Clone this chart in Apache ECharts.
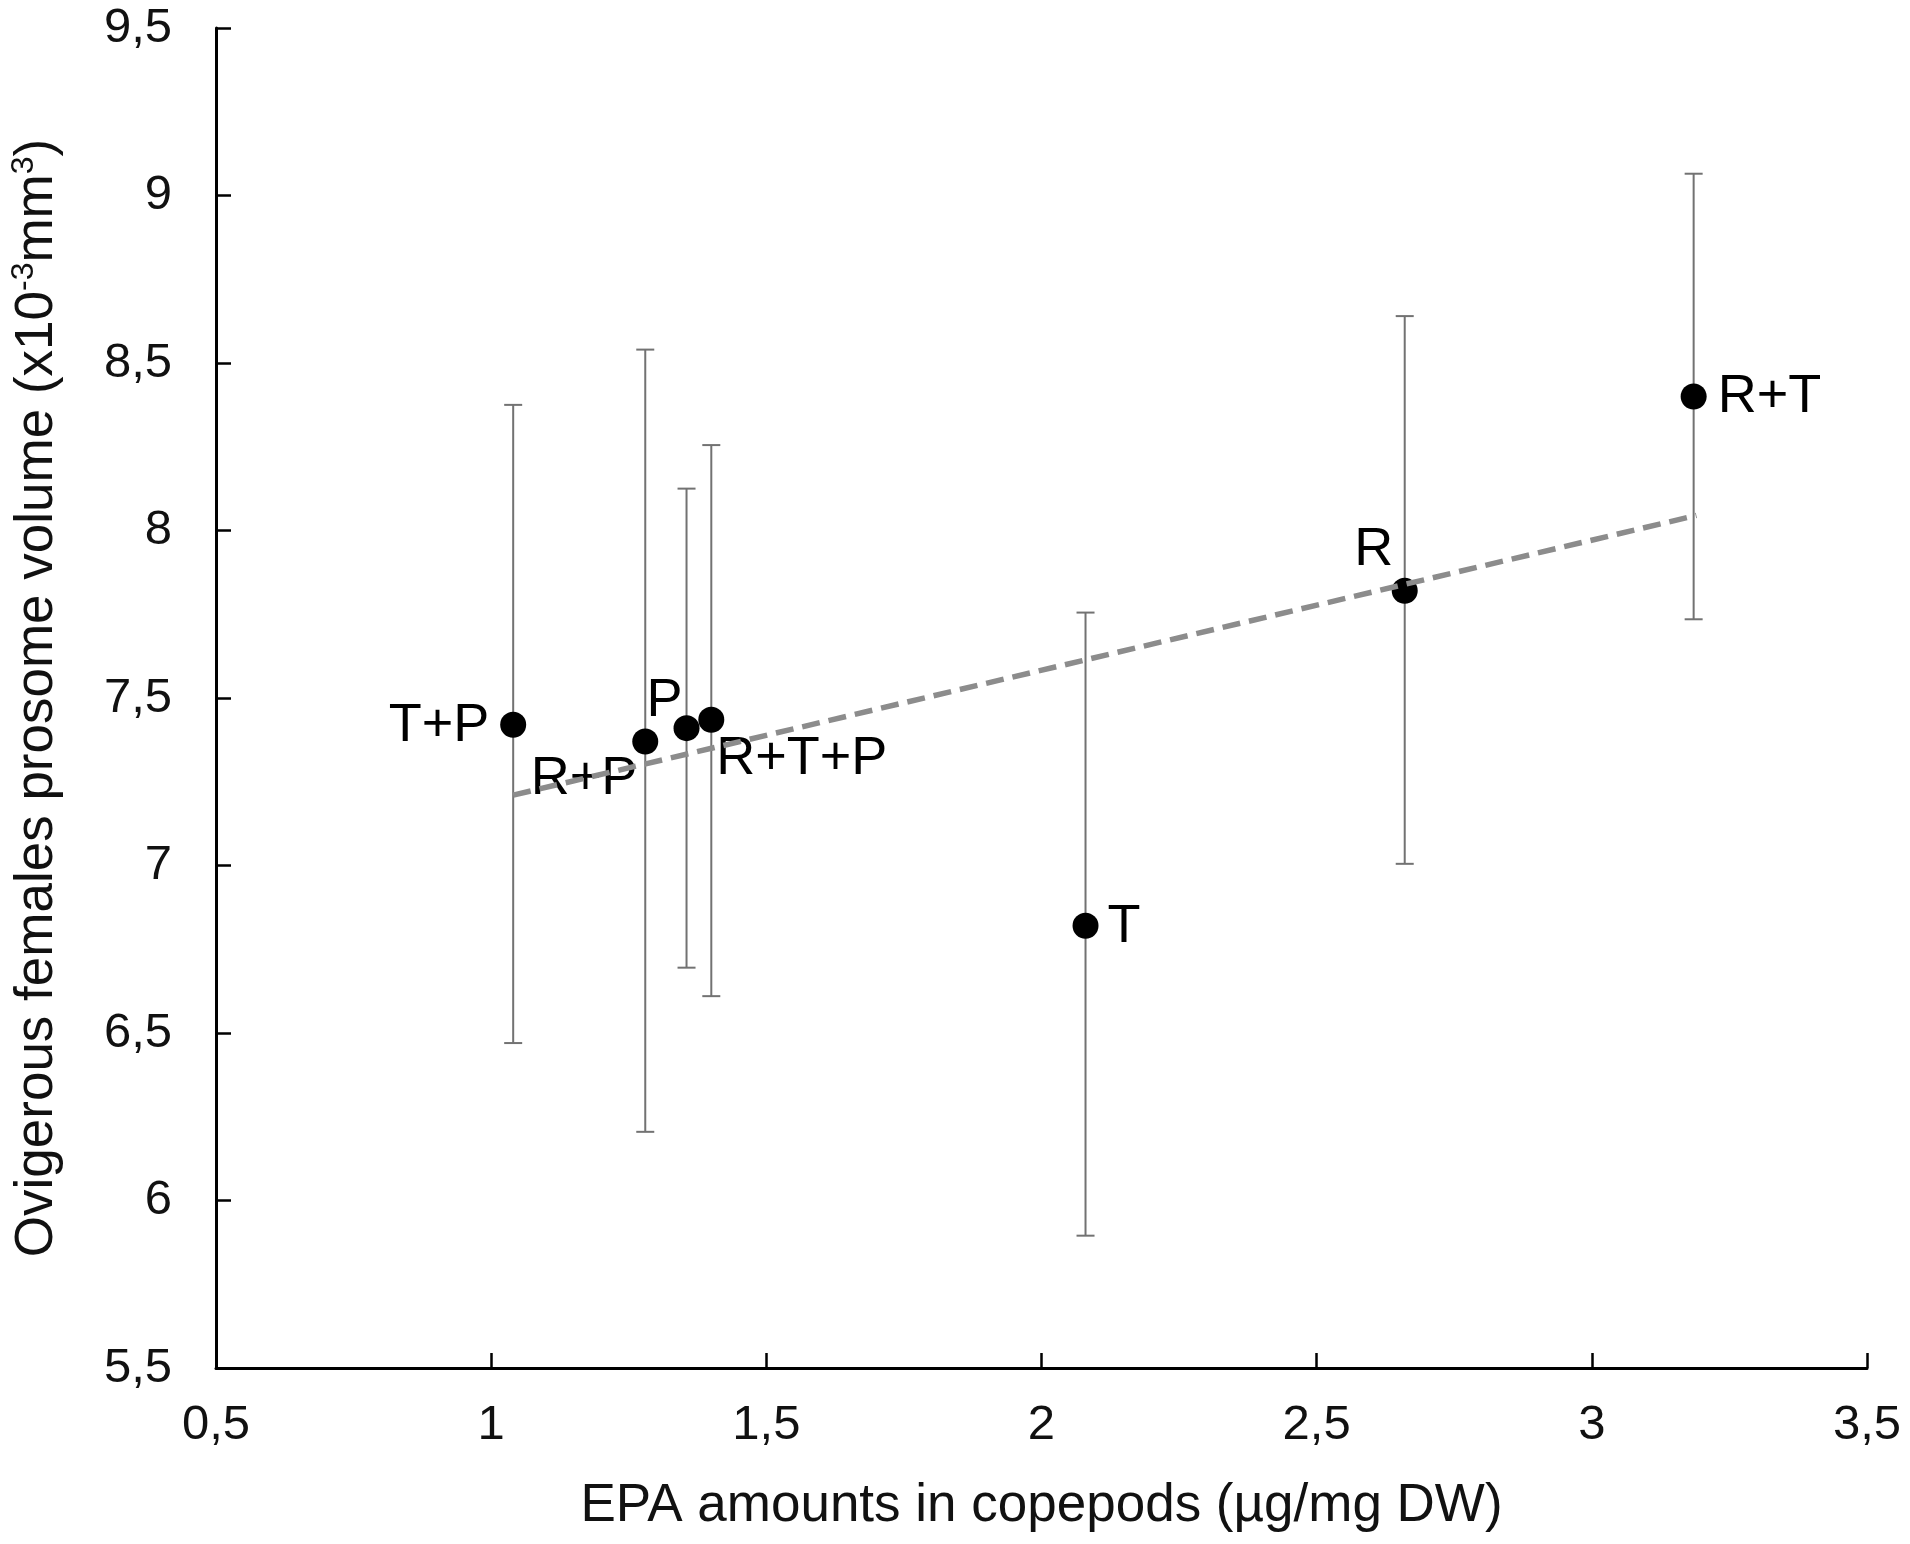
<!DOCTYPE html>
<html>
<head>
<meta charset="utf-8">
<script src="https://cdn.jsdelivr.net/npm/echarts@6/dist/echarts.min.js"></script>
<style>
  html, body { margin: 0; padding: 0; background: #ffffff; }
  #chart { width: 1910px; height: 1544px; }
</style>
</head>
<body>
<div id="chart"></div>
<script>
// ---- data ----
const groups     = ['T+P', 'R+P', 'P', 'R+T+P', 'T', 'R', 'R+T'];
const epa        = [1.04, 1.28, 1.355, 1.40, 2.08, 2.66, 3.185];
const volume     = [7.42, 7.37, 7.41, 7.435, 6.82, 7.82, 8.40];
const volumeHigh = [8.375, 8.54, 8.125, 8.255, 7.755, 8.64, 9.065];
const volumeLow  = [6.47, 6.205, 6.695, 6.61, 5.895, 7.005, 7.735];
const trendX     = [1.04, 3.19];
const trendY     = [7.21, 8.045];
const xTicks     = [0.5, 1, 1.5, 2, 2.5, 3, 3.5];
const yTicks     = [5.5, 6, 6.5, 7, 7.5, 8, 8.5, 9, 9.5];

// ---- presentation ----
const FONT = '"Liberation Sans", Arial, sans-serif';
const labelPlacement = {
  'T+P':   { align: 'right',  dx: -24, dy: 1 },
  'R+P':   { align: 'right',  dx: -8,  dy: 38 },
  'P':     { align: 'center', dx: -22, dy: -27 },
  'R+T+P': { align: 'left',   dx: 5,   dy: 39 },
  'T':     { align: 'left',   dx: 22,  dy: 1 },
  'R':     { align: 'center', dx: -31, dy: -41 },
  'R+T':   { align: 'left',   dx: 24,  dy: 1 }
};
const fmt = v => String(v).replace('.', ',');

const pointData = groups.map((g, i) => {
  const p = labelPlacement[g];
  return {
    value: [epa[i], volume[i]],
    name: g,
    label: {
      show: true,
      formatter: g,
      position: ['50%', '50%'],
      align: p.align,
      verticalAlign: 'middle',
      offset: [p.dx, p.dy]
    }
  };
});
const errData = groups.map((g, i) => [epa[i], volumeLow[i], volumeHigh[i]]);
const trendData = trendX.map((x, i) => [x, trendY[i]]);

const chart = echarts.init(document.getElementById('chart'), null, { renderer: 'canvas' });
chart.setOption({
  animation: false,
  backgroundColor: '#ffffff',
  textStyle: { fontFamily: FONT },
  grid: { left: 216, right: 43, top: 28, bottom: 176, containLabel: false },
  xAxis: {
    type: 'value',
    min: xTicks[0], max: xTicks[xTicks.length - 1], interval: 0.5,
    name: 'EPA amounts in copepods (µg/mg DW)',
    nameLocation: 'middle',
    nameGap: 112,
    nameTextStyle: { fontSize: 53, color: '#111111', fontFamily: FONT },
    axisLine: { show: true, onZero: false, lineStyle: { color: '#000', width: 3 } },
    axisTick: { show: true, inside: true, length: 15, lineStyle: { color: '#000', width: 2.5 } },
    axisLabel: { fontSize: 49, color: '#111111', margin: 33, fontFamily: FONT, formatter: fmt },
    splitLine: { show: false }
  },
  yAxis: {
    type: 'value',
    min: yTicks[0], max: yTicks[yTicks.length - 1], interval: 0.5,
    name: 'Ovigerous females prosome volume (x10{sup|-3}mm{sup|3})',
    nameLocation: 'middle',
    nameGap: 150,
    nameTextStyle: {
      fontSize: 53, color: '#111111', fontFamily: FONT, lineHeight: 58,
      rich: { sup: { fontSize: 32, fontFamily: FONT, color: '#111111', verticalAlign: 'top', lineHeight: 36 } }
    },
    axisLine: { show: true, onZero: false, lineStyle: { color: '#000', width: 3 } },
    axisTick: { show: true, inside: true, length: 15, lineStyle: { color: '#000', width: 2.5 } },
    axisLabel: { fontSize: 49, color: '#111111', margin: 44, fontFamily: FONT, formatter: fmt },
    splitLine: { show: false }
  },
  series: [
    {
      type: 'custom',
      name: 'error',
      z: 2,
      data: errData,
      encode: { x: 0, y: [1, 2] },
      renderItem: function (params, api) {
        const x = api.value(0);
        const lo = api.coord([x, api.value(1)]);
        const hi = api.coord([x, api.value(2)]);
        const cap = 9;
        const style = { stroke: '#727272', lineWidth: 2, fill: null };
        return {
          type: 'group',
          children: [
            { type: 'line', shape: { x1: lo[0], y1: lo[1], x2: hi[0], y2: hi[1] }, style: style },
            { type: 'line', shape: { x1: hi[0] - cap, y1: hi[1], x2: hi[0] + cap, y2: hi[1] }, style: style },
            { type: 'line', shape: { x1: lo[0] - cap, y1: lo[1], x2: lo[0] + cap, y2: lo[1] }, style: style }
          ]
        };
      }
    },
    {
      type: 'scatter',
      name: 'points',
      z: 3,
      symbol: 'circle',
      symbolSize: 26,
      itemStyle: { color: '#000000', opacity: 1 },
      label: { fontSize: 54, color: '#000000', fontFamily: FONT },
      data: pointData
    },
    {
      type: 'line',
      name: 'trend',
      z: 4,
      data: trendData,
      showSymbol: false,
      symbol: 'none',
      lineStyle: { color: '#8c8c8c', width: 5.5, type: [18, 9] }
    }
  ]
});
</script>
</body>
</html>
